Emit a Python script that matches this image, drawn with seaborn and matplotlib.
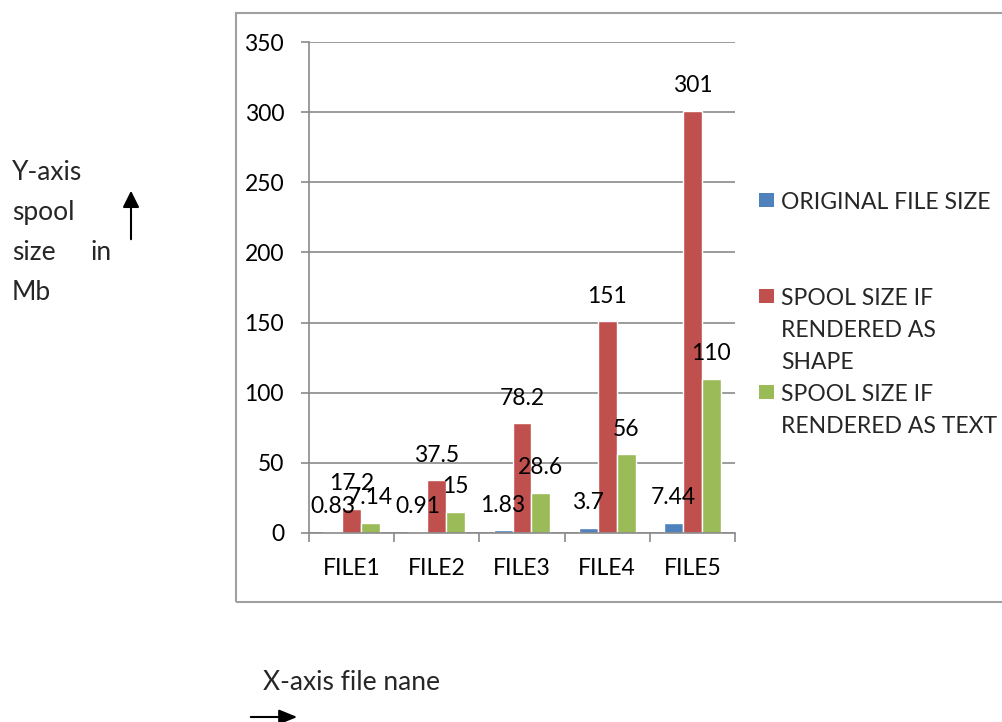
import pandas as pd
import matplotlib
matplotlib.use("Agg")
import matplotlib.pyplot as plt
from matplotlib.patches import Rectangle, FancyArrowPatch
import seaborn as sns

# dados
files = ["FILE1", "FILE2", "FILE3", "FILE4", "FILE5"]
original_size = [0.83, 0.91, 1.83, 3.7, 7.44]
spool_shape = [17.2, 37.5, 78.2, 151, 301]
spool_text = [7.14, 15, 28.6, 56, 110]
series = ["ORIGINAL FILE SIZE", "SPOOL SIZE IF\nRENDERED AS\nSHAPE", "SPOOL SIZE IF\nRENDERED AS TEXT"]
colors = ["#4F81BD", "#C0504D", "#9BBB59"]
y_ticks = [0, 50, 100, 150, 200, 250, 300, 350]

rows = []
for values, name in zip([original_size, spool_shape, spool_text], series):
    for f, v in zip(files, values):
        rows.append({"file": f, "series": name, "size": v})
df = pd.DataFrame(rows)

sns.set_theme(style="white")
plt.rcParams["font.family"] = ["Lato", "DejaVu Sans"]
FS = 16.5      # textos do gráfico
FS_OUT = 19    # textos fora do gráfico

fig = plt.figure(figsize=(10.02, 7.22), dpi=100)
ax = fig.add_axes([0.3084, 0.2618, 0.4251, 0.680])

sns.barplot(data=df, x="file", y="size", hue="series", palette=colors,
            width=0.667, saturation=1, ax=ax, legend=False, errorbar=None)

for cont in ax.containers:
    ax.bar_label(cont, labels=["{:g}".format(b.get_height()) for b in cont],
                 padding=10.5, fontsize=FS, color="black")

ax.set_ylim(0, 350)
ax.set_yticks(y_ticks)
ax.set_xlim(-0.5, len(files) - 0.5)
ax.set_xlabel("")
ax.set_ylabel("")
ax.yaxis.grid(True, color="#8a8a8a", linewidth=1.2)
ax.set_axisbelow(True)
for s in ["top", "right"]:
    ax.spines[s].set_visible(False)
for s in ["left", "bottom"]:
    ax.spines[s].set_color("#8a8a8a")
    ax.spines[s].set_linewidth(1.2)

ax.set_xticks([i - 0.5 for i in range(len(files) + 1)], minor=True)
ax.tick_params(axis="x", which="minor", length=6.5, width=1.2, color="#8a8a8a", direction="out", bottom=True)
ax.tick_params(axis="x", which="major", length=0, pad=18, labelsize=FS, labelcolor="black")
ax.tick_params(axis="y", length=6, width=1.2, color="#8a8a8a", direction="out", left=True,
               pad=12, labelsize=FS, labelcolor="black")

# moldura do gráfico
fig.patches.append(Rectangle((0.2355, 0.1662), 0.8, 0.816, transform=fig.transFigure,
                             fill=False, edgecolor="#a0a0a0", linewidth=1.5))

# legenda manual
leg_y = [200, 296, 392]
for name, c, y in zip(series, colors, leg_y):
    fig.patches.append(Rectangle((759 / 1002, 1 - (y + 7) / 722), 15 / 1002, 14 / 722,
                                 transform=fig.transFigure, facecolor=c, edgecolor="none"))
    fig.text(781 / 1002, 1 - (y - 8) / 722, name, fontsize=FS, va="top", ha="left",
             linespacing=1.66)

# textos dos eixos fora do gráfico
for txt, y in zip(["Y-axis", "spool", "size", "Mb"], [172, 212, 252, 292]):
    fig.text(12 / 1002, 1 - y / 722, txt, fontsize=FS_OUT, va="center", ha="left")
fig.text(90 / 1002, 1 - 252 / 722, "in", fontsize=FS_OUT, va="center", ha="left")
fig.patches.append(FancyArrowPatch((131 / 1002, 1 - 242 / 722), (131 / 1002, 1 - 188 / 722),
                                   transform=fig.transFigure, arrowstyle="-|>,head_length=10,head_width=5",
                                   color="black", linewidth=1.5))
fig.text(263 / 1002, 1 - 683 / 722, "X-axis file nane", fontsize=FS_OUT, va="center", ha="left")
fig.patches.append(FancyArrowPatch((248 / 1002, 1 - 717 / 722), (300 / 1002, 1 - 717 / 722),
                                   transform=fig.transFigure, arrowstyle="-|>,head_length=11,head_width=4.5",
                                   color="black", linewidth=1.5))

fig.savefig("out.png", dpi=100)
